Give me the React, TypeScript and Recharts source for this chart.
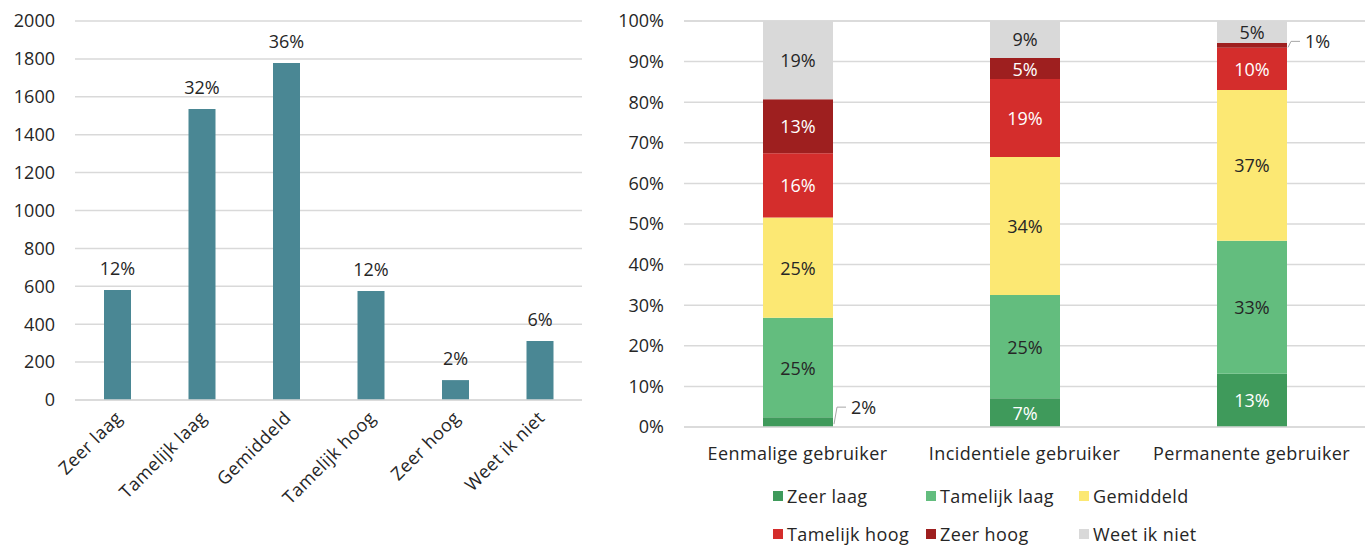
import { Bar, BarChart, CartesianGrid, LabelList, Legend, XAxis, YAxis } from "recharts";

// linker grafiek: aantallen per inschatting
const levels = ["Zeer laag", "Tamelijk laag", "Gemiddeld", "Tamelijk hoog", "Zeer hoog", "Weet ik niet"];
const counts = [580, 1536, 1778, 575, 105, 311];
const countShares = ["12%", "32%", "36%", "12%", "2%", "6%"];
const countTicks = [0, 200, 400, 600, 800, 1000, 1200, 1400, 1600, 1800, 2000];

// rechter grafiek: verdeling per type gebruiker (procenten)
const userTypes = ["Eenmalige gebruiker", "Incidentiele gebruiker", "Permanente gebruiker"];
const zeerLaag = [2.4, 7.1, 13.1];
const tamelijkLaag = [24.5, 25.4, 32.8];
const gemiddeld = [24.7, 34.0, 37.1];
const tamelijkHoog = [15.8, 19.2, 10.4];
const zeerHoog = [13.3, 5.2, 1.2];
const weetNiet = [19.3, 9.1, 5.4];
const pctTicks = [0, 10, 20, 30, 40, 50, 60, 70, 80, 90, 100];

const seriesKeys = ["zeerLaag", "tamelijkLaag", "gemiddeld", "tamelijkHoog", "zeerHoog", "weetNiet"];
const seriesColors = ["#3f9a5b", "#63bd7e", "#fce873", "#d42d2c", "#9e1f1f", "#d9d9d9"];
const whiteText = [true, false, false, true, true, false];
const smallLift = [-15, 0, 0, 0, -4, 0];

const TEXT = "#262626";
const FONT = "'Open Sans', Lato, sans-serif";
const WORD_SPACING = 0.4;

const countData = levels.map((level, i) => ({ level, count: counts[i], share: countShares[i] }));

const stackData = userTypes.map((name, i) => ({
  name,
  zeerLaag: zeerLaag[i],
  tamelijkLaag: tamelijkLaag[i],
  gemiddeld: gemiddeld[i],
  tamelijkHoog: tamelijkHoog[i],
  zeerHoog: zeerHoog[i],
  weetNiet: weetNiet[i],
}));

function AngledTick(props: any) {
  const { x, y, payload } = props;
  const ax = x + 1;
  const ay = y + 6;
  return (
    <text
      x={ax}
      y={ay}
      transform={`rotate(-45, ${ax}, ${ay})`}
      textAnchor="end"
      dominantBaseline="central"
      fontSize={18}
      letterSpacing={WORD_SPACING}
      fill={TEXT}
    >
      {payload.value}
    </text>
  );
}

function CategoryTick(props: any) {
  const { x, y, payload } = props;
  return (
    <text x={x} y={y + 18} textAnchor="middle" dominantBaseline="central" fontSize={18} letterSpacing={WORD_SPACING} fill={TEXT}>
      {payload.value}
    </text>
  );
}

function segmentLabel(white: boolean, lift: number) {
  return (props: any) => {
    const { x, y, width, height, value } = props;
    if (value == null) return null;
    const txt = `${Math.round(value)}%`;
    const cy = y + height / 2;
    if (value < 3) {
      const x0 = x + width + 1;
      const ty = cy + lift;
      return (
        <g>
          <polyline
            points={`${x0},${cy + 2} ${x0 + 3},${ty} ${x0 + 12},${ty}`}
            fill="none"
            stroke="#a6a6a6"
            strokeWidth={1}
          />
          <text x={x0 + 17} y={ty} dominantBaseline="central" fontSize={18} fill={TEXT}>
            {txt}
          </text>
        </g>
      );
    }
    return (
      <text
        x={x + width / 2}
        y={cy}
        textAnchor="middle"
        dominantBaseline="central"
        fontSize={18}
        fill={white ? "#ffffff" : TEXT}
      >
        {txt}
      </text>
    );
  };
}

function StackLegend() {
  return (
    <div style={{ display: "grid", gridTemplateColumns: "153px 153px 153px", fontFamily: FONT }}>
      {levels.map((level, i) => (
        <div key={level} style={{ display: "flex", alignItems: "center", height: 38 }}>
          <span style={{ width: 10, height: 10, background: seriesColors[i], marginRight: 4, display: "inline-block", flexShrink: 0 }} />
          <span style={{ fontSize: 18, color: TEXT, whiteSpace: "nowrap", letterSpacing: WORD_SPACING }}>{level}</span>
        </div>
      ))}
    </div>
  );
}

export default function App() {
  return (
    <div style={{ position: "absolute", left: 0, top: 0, width: 1368, height: 547, background: "#fff", fontFamily: FONT }}>
      <div style={{ position: "absolute", left: 0, top: 0 }}>
        <BarChart width={600} height={547} data={countData} margin={{ top: 21, right: 18, bottom: 0, left: 0 }}>
          <CartesianGrid vertical={false} stroke="#d9d9d9" strokeWidth={1.5} />
          <XAxis
            dataKey="level"
            axisLine={{ stroke: "#d9d9d9", strokeWidth: 1.5 }}
            tickLine={false}
            interval={0}
            height={147}
            tick={<AngledTick />}
          />
          <YAxis
            width={75}
            domain={[0, 2000]}
            ticks={countTicks}
            axisLine={false}
            tickLine={false}
            tickMargin={14}
            tick={{ fontSize: 18, fill: TEXT }}
          />
          <Bar dataKey="count" fill="#4a8794" barSize={27} isAnimationActive={false}>
            <LabelList dataKey="share" position="top" offset={15} fontSize={18} fill={TEXT} />
          </Bar>
        </BarChart>
      </div>
      <div style={{ position: "absolute", left: 600, top: 0 }}>
        <BarChart width={768} height={547} data={stackData} margin={{ top: 21, right: 3, bottom: 0, left: 0 }}>
          <CartesianGrid vertical={false} stroke="#d9d9d9" strokeWidth={1.5} />
          <XAxis
            dataKey="name"
            axisLine={{ stroke: "#d9d9d9", strokeWidth: 1.5 }}
            tickLine={false}
            height={120}
            interval={0}
            tick={<CategoryTick />}
          />
          <YAxis
            width={84}
            domain={[0, 100]}
            ticks={pctTicks}
            tickFormatter={(v) => `${v}%`}
            axisLine={false}
            tickLine={false}
            tickMargin={14}
            tick={{ fontSize: 18, fill: TEXT }}
          />
          <Legend
            layout="horizontal"
            verticalAlign="middle"
            align="center"
            wrapperStyle={{ position: "absolute", left: 173, top: 477, width: 470 }}
            content={() => <StackLegend />}
          />
          {seriesKeys.map((key, i) => (
            <Bar
              key={key}
              dataKey={key}
              name={levels[i]}
              stackId="a"
              fill={seriesColors[i]}
              barSize={70}
              isAnimationActive={false}
            >
              <LabelList dataKey={key} content={segmentLabel(whiteText[i], smallLift[i])} />
            </Bar>
          ))}
        </BarChart>
      </div>
    </div>
  );
}
